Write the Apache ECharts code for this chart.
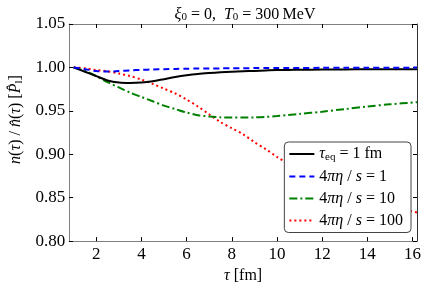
<!DOCTYPE html>
<html><head><meta charset="utf-8">
<script src="https://cdn.jsdelivr.net/npm/echarts@6/dist/echarts.min.js"></script>
<style>html,body{margin:0;padding:0;background:#fff}#c{width:425px;height:289px}</style>
</head><body><div id="c"></div>
<script>
const tau = [1,1.5,2,2.5,3,3.5,4,4.5,5,5.5,6,6.5,7,7.5,8,8.5,9,9.5,10,10.5,11,12,13,14,15,16.2];
const tauEq1 = [1.000,0.995,0.990,0.985,0.9825,0.982,0.9825,0.984,0.9865,0.989,0.991,0.9925,0.9935,0.9943,0.995,0.9955,0.996,0.9965,0.997,0.9971,0.9973,0.9975,0.9977,0.9978,0.998,0.998];
const eta1 = [1.000,0.998,0.9958,0.9952,0.9958,0.9966,0.9972,0.9976,0.998,0.9983,0.9985,0.9987,0.9988,0.9989,0.999,0.9991,0.9992,0.9993,0.9993,0.9994,0.9994,0.9995,0.9996,0.9997,0.9997,0.9998];
const eta10 = [1.000,0.996,0.990,0.983,0.977,0.971,0.966,0.961,0.956,0.952,0.948,0.945,0.9435,0.9425,0.9422,0.9422,0.9425,0.943,0.944,0.9452,0.9465,0.949,0.952,0.955,0.9575,0.960];
const eta100 = [1.000,0.999,0.997,0.9955,0.993,0.990,0.986,0.981,0.9755,0.970,0.963,0.955,0.946,0.937,0.930,0.923,0.914,0.906,0.897,0.889,0.881,0.868,0.857,0.848,0.840,0.833];
const xTicks = [2,4,6,8,10,12,14,16];
const yTicks = [0.80,0.85,0.90,0.95,1.00,1.05];
const seriesNames = ['tauEq','eta1','eta10','eta100'];
const legendLabels = {
  tauEq: '{i|τ}{sub|eq}{n| = 1 fm}',
  eta1: '{n|4}{i|πη}{n| / }{i|s}{n| = 1}',
  eta10: '{n|4}{i|πη}{n| / }{i|s}{n| = 10}',
  eta100: '{n|4}{i|πη}{n| / }{i|s}{n| = 100}'
};
const serif = 'Liberation Serif';
const rich = {
  i: {fontFamily: serif, fontStyle: 'italic', fontWeight: 'normal', fontSize: 16, color: '#000'},
  n: {fontFamily: serif, fontWeight: 'normal', fontSize: 16, color: '#000'},
  sub: {fontFamily: serif, fontWeight: 'normal', fontSize: 11, color: '#000', verticalAlign: 'bottom', padding: [6,0,0,0]}
};
function pairs(ys){ return tau.map((t,k)=>[t, ys[k]]); }
const chart = echarts.init(document.getElementById('c'));
const axisGray = '#808080';
chart.setOption({
  animation: false,
  backgroundColor: '#fff',
  title: {
    text: '{i|ξ}{sub|0}{n| = 0,  }{i|T}{sub|0}{n| = 300\u2009MeV}',
    left: 240, top: 1, textAlign: 'center',
    textStyle: {fontWeight: 'normal', rich: rich}
  },
  grid: {left: 62, right: 8, top: 24, bottom: 44},
  legend: {
    orient: 'vertical', right: 14, top: 142,
    data: seriesNames,
    formatter: n => legendLabels[n],
    textStyle: {rich: rich},
    itemWidth: 25, itemHeight: 10, itemGap: 6,
    itemStyle: {opacity: 0},
    padding: [4, 8, 4, 4],
    borderColor: '#444', borderWidth: 1, borderRadius: 4,
    backgroundColor: '#fff'
  },
  xAxis: [{
    type: 'value', min: 0.8, max: 16.2,
    name: '{i|τ}{n| [fm]}', nameLocation: 'middle', nameGap: 26,
    nameTextStyle: {rich: rich},
    axisLine: {show: true, lineStyle: {color: axisGray}},
    axisTick: {inside: true, length: 4, customValues: xTicks, lineStyle: {color: '#000'}},
    axisLabel: {customValues: xTicks, fontFamily: serif, fontSize: 17, color: '#000', margin: 5},
    splitLine: {show: false}
  }, {
    type: 'value', min: 0.8, max: 16.2, position: 'top',
    axisLine: {show: true, lineStyle: {color: axisGray}},
    axisTick: {inside: true, length: 4, customValues: xTicks, lineStyle: {color: '#000'}},
    axisLabel: {show: false}, splitLine: {show: false}
  }],
  yAxis: [{
    type: 'value', min: 0.8, max: 1.05, interval: 0.05,
    name: '{i|n}{n|(}{i|τ}{n|)}{n| / }{i|n̂}{n|(}{i|τ}{n|)}{n| [}{i|P̂}{sub|l}{n|]}',
    nameLocation: 'middle', nameGap: 44, nameRotate: 90,
    nameTextStyle: {rich: rich, padding: [0, 0, 0, 26]},
    axisLine: {show: true, lineStyle: {color: axisGray}},
    axisTick: {inside: true, length: 4, lineStyle: {color: '#000'}},
    axisLabel: {fontFamily: serif, fontSize: 17, color: '#000', margin: 4, formatter: v => v.toFixed(2)},
    splitLine: {show: false}
  }, {
    type: 'value', min: 0.8, max: 1.05, interval: 0.05, position: 'right',
    axisLine: {show: true, lineStyle: {color: '#333'}},
    axisTick: {inside: true, length: 4, lineStyle: {color: '#000'}},
    axisLabel: {show: false}, splitLine: {show: false}
  }],
  series: [
    {name: 'tauEq', type: 'line', data: pairs(tauEq1), symbol: 'none', smooth: 0.3, z: 5,
     lineStyle: {color: '#000', width: 2, type: 'solid'}, itemStyle: {color: '#000'}},
    {name: 'eta1', type: 'line', data: pairs(eta1), symbol: 'none', smooth: 0.3, z: 6,
     lineStyle: {color: '#0000ff', width: 2, type: [6,4]}, itemStyle: {color: '#0000ff'}},
    {name: 'eta10', type: 'line', data: pairs(eta10), symbol: 'none', smooth: 0.3, z: 4,
     lineStyle: {color: '#008000', width: 2, type: [8,3,2,3]}, itemStyle: {color: '#008000'}},
    {name: 'eta100', type: 'line', data: pairs(eta100), symbol: 'none', smooth: 0.3, z: 3,
     lineStyle: {color: '#ff0000', width: 2, type: [2,3]}, itemStyle: {color: '#ff0000'}}
  ]
});
</script></body></html>
